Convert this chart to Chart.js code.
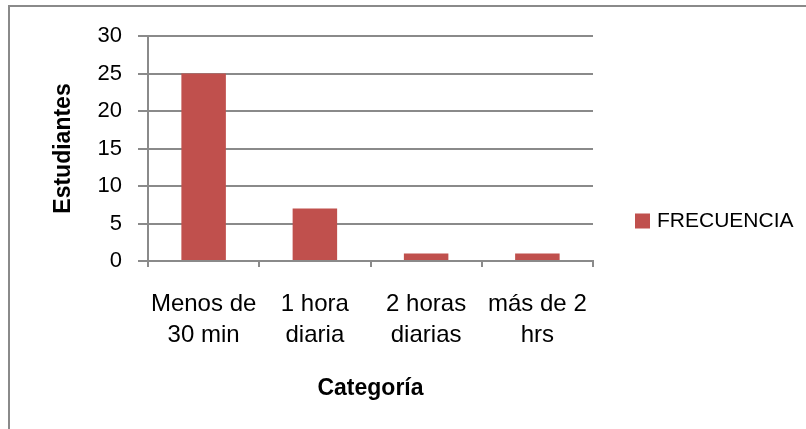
<!DOCTYPE html>
<html lang="es">
<head>
<meta charset="utf-8">
<title>Frecuencia por categoría</title>
<script src="https://cdn.jsdelivr.net/npm/chart.js@4.4.1/dist/chart.umd.min.js"></script>
<style>
  html, body { margin: 0; padding: 0; background: #fff; }
  #wrap { position: relative; width: 806px; height: 429px; }
</style>
</head>
<body>
<div id="wrap"><canvas id="chart" width="806" height="429"></canvas></div>
<script>
// ── Data ──────────────────────────────────────────────────────────────────────
const CATEGORIES   = [['Menos de', '30 min'], ['1 hora', 'diaria'], ['2 horas', 'diarias'], ['más de 2', 'hrs']]
const FRECUENCIA   = [25, 7, 1, 1]
const SERIES_LABEL = 'FRECUENCIA'
const Y_TITLE      = 'Estudiantes'
const X_TITLE      = 'Categoría'

// ── Style ─────────────────────────────────────────────────────────────────────
const FONT      = "'Liberation Sans', Arial, sans-serif"
const BAR_COLOR = '#C0504D'
const AXIS_GRAY = '#8a8a8a'

// outer frame, like the Excel chart border (cut off at right and bottom)
const framePlugin = {
  id: 'frame',
  beforeDraw(chart) {
    const { ctx, width, height } = chart
    ctx.save()
    ctx.fillStyle = '#fff'
    ctx.fillRect(0, 0, width, height)
    ctx.fillStyle = AXIS_GRAY
    ctx.fillRect(8, 5, width - 8, 2)
    ctx.fillRect(8, 5, 2, height - 5)
    ctx.restore()
  },
}

// Excel-style legend sitting to the right of the plot area.
// The built-in one gets squeezed by the layout's max box width, so draw it here.
const sideLegendPlugin = {
  id: 'sideLegend',
  afterDraw(chart) {
    const { ctx, chartArea } = chart
    const x  = chartArea.right + 42
    const cy = chartArea.bottom - 40
    ctx.save()
    chart.data.datasets.forEach((ds, i) => {
      const y = cy + i * 30
      ctx.fillStyle = ds.backgroundColor
      ctx.fillRect(x, y - 7.5, 15, 15)
      ctx.fillStyle    = '#000'
      ctx.font         = `21px ${FONT}`
      ctx.textBaseline = 'middle'
      ctx.textAlign    = 'left'
      ctx.fillText(ds.label, x + 22, y)
    })
    ctx.restore()
  },
}

// ── Chart ─────────────────────────────────────────────────────────────────────
new Chart(document.getElementById('chart'), {
  type: 'bar',
  data: {
    labels: CATEGORIES,
    datasets: [{
      label:              SERIES_LABEL,
      data:               FRECUENCIA,
      backgroundColor:    BAR_COLOR,
      borderWidth:        0,
      categoryPercentage: 1,
      barPercentage:      0.4,
    }],
  },
  options: {
    responsive: false,
    animation:  false,
    layout: { padding: { left: 0, top: 36, right: 213, bottom: 23 } },
    plugins: {
      tooltip: { enabled: false },
      legend:  { display: false },
    },
    scales: {
      x: {
        afterFit(scale) { scale.height = 145 },
        grid:   { drawOnChartArea: false, drawTicks: true, tickLength: 6, color: AXIS_GRAY, lineWidth: 2 },
        border: { color: AXIS_GRAY, width: 2 },
        ticks:  { color: '#000', padding: 22, maxRotation: 0, autoSkip: false,
                  font: { family: FONT, size: 24, lineHeight: 31 / 24 } },
        title:  { display: true, text: X_TITLE, color: '#000', padding: { top: 0, bottom: 4 },
                  font: { family: FONT, size: 23, weight: 'bold' } },
      },
      y: {
        min: 0,
        max: 30,
        afterFit(scale) { scale.width = 148 },
        grid:   { color: AXIS_GRAY, lineWidth: 2, tickLength: 10 },
        border: { color: AXIS_GRAY, width: 2 },
        ticks:  { stepSize: 5, color: '#000', padding: 16, font: { family: FONT, size: 22 } },
        title:  { display: true, text: Y_TITLE, color: '#000', padding: { top: 50, bottom: 0 },
                  font: { family: FONT, size: 23, weight: 'bold' } },
      },
    },
  },
  plugins: [framePlugin, sideLegendPlugin],
})
</script>
</body>
</html>
